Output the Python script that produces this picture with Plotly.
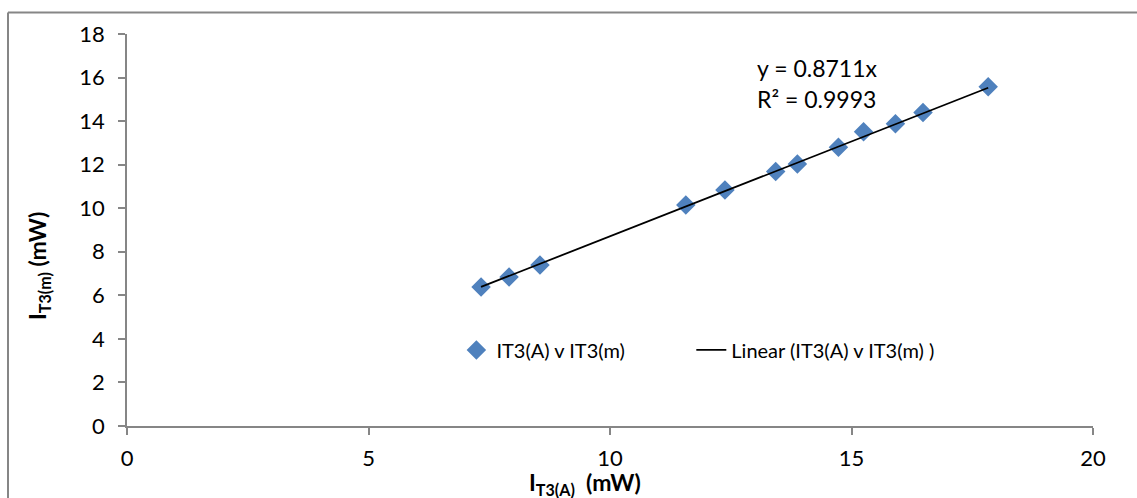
import plotly.graph_objects as go

# Data
it3_a = [7.33, 7.91, 8.55, 11.57, 12.38, 13.43, 13.88, 14.73, 15.25, 15.91, 16.48, 17.83]
it3_m = [6.38, 6.84, 7.39, 10.15, 10.84, 11.69, 12.03, 12.80, 13.51, 13.88, 14.39, 15.58]
slope = 0.8711
r_squared = 0.9993
x_ticks = [0, 5, 10, 15, 20]
y_ticks = [0, 2, 4, 6, 8, 10, 12, 14, 16, 18]

FONT = "Lato"
GRAY = "#868686"
BLUE = "#4F81BD"
NB = "\u00a0"

trend_x = [min(it3_a), max(it3_a)]
trend_y = [slope * v for v in trend_x]

fig = go.Figure()
fig.add_trace(go.Scatter(
    x=it3_a, y=it3_m, mode="markers", name="IT3(A) v IT3(m)" + NB * 12,
    marker=dict(symbol="diamond", size=15, color=BLUE, line=dict(width=0)),
))
fig.add_trace(go.Scatter(
    x=trend_x, y=trend_y, mode="lines", name="Linear (IT3(A) v IT3(m) )",
    line=dict(color="black", width=1.8),
))

fig.update_layout(
    width=1137, height=498,
    margin=dict(l=127, r=44, t=34, b=72),
    paper_bgcolor="white", plot_bgcolor="white",
    font=dict(family=FONT, size=20, color="black"),
    showlegend=True,
    legend=dict(
        orientation="h", x=0.341, xanchor="left", y=0.194, yanchor="middle",
        font=dict(family=FONT, size=20, color="black"),
        bgcolor="rgba(0,0,0,0)",
    ),
    xaxis=dict(
        range=[0, 20], tickvals=x_ticks, showgrid=False, zeroline=False,
        showline=True, linecolor=GRAY, linewidth=1.5,
        ticks="outside", ticklen=7, tickcolor=GRAY, tickwidth=1.5,
        tickfont=dict(family=FONT, size=22), fixedrange=True,
        ticklabelstandoff=5,
    ),
    yaxis=dict(
        range=[0, 18], tickvals=y_ticks, showgrid=False, zeroline=False,
        showline=True, linecolor=GRAY, linewidth=1.5,
        ticks="outside", ticklen=7, tickcolor=GRAY, tickwidth=1.5,
        tickfont=dict(family=FONT, size=22), fixedrange=True,
        ticklabelstandoff=9,
    ),
    annotations=[
        dict(xref="paper", yref="paper", x=(755 - 127) / 966, y=(426 - 68) / 392,
             xanchor="left", yanchor="middle", showarrow=False,
             text=f"y = {slope}x", font=dict(family=FONT, size=23)),
        dict(xref="paper", yref="paper", x=(755 - 127) / 966, y=(426 - 99) / 392,
             xanchor="left", yanchor="middle", showarrow=False,
             text=f"R² = {r_squared}", font=dict(family=FONT, size=23)),
        dict(xref="paper", yref="paper", x=(585 - 127) / 966, y=(426 - 483) / 392,
             xanchor="center", yanchor="middle", showarrow=False,
             text="<b>I<sub>T3(A)</sub>  (mW)</b>", font=dict(family=FONT, size=23)),
        dict(xref="paper", yref="paper", x=(38 - 127) / 966, y=(426 - 266) / 392,
             xanchor="center", yanchor="middle", showarrow=False, textangle=-90,
             text="<b>I<sub>T3(m)</sub> (mW)</b>", font=dict(family=FONT, size=23)),
    ],
    shapes=[
        dict(type="line", xref="paper", yref="paper",
             x0=(8 - 127) / 966, x1=(8 - 127) / 966,
             y0=(426 - 520) / 392, y1=(426 - 12.5) / 392,
             line=dict(color=GRAY, width=2)),
        dict(type="line", xref="paper", yref="paper",
             x0=(8 - 127) / 966, x1=(1150 - 127) / 966,
             y0=(426 - 12.5) / 392, y1=(426 - 12.5) / 392,
             line=dict(color=GRAY, width=2)),
    ],
)

fig.write_html(
    "out.html",
    config={"displayModeBar": False},
    post_script="document.body.style.margin='0';document.body.style.padding='0';",
)
